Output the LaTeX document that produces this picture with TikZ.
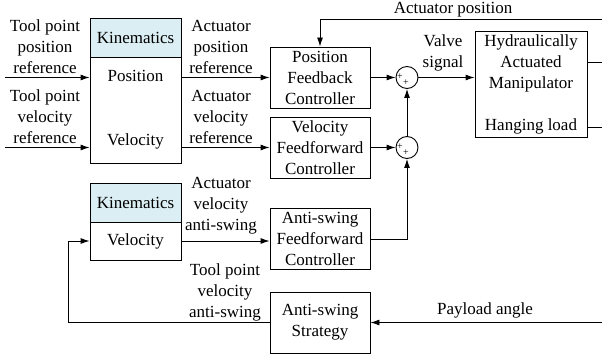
\documentclass[tikz,border=0pt]{standalone}
\usepackage{fontspec}
\setmainfont{Liberation Serif}
\usetikzlibrary{arrows.meta,positioning,shapes,calc}
\definecolor{KinBlue}{RGB}{218,238,243}
\tikzstyle{block} = [rectangle, draw, black, line width=0.9pt,
minimum width=100pt, minimum height=61pt, align=center, inner sep=0pt]
\tikzstyle{kinhead} = [block, fill=KinBlue, minimum width=91pt, minimum height=39pt]
\tikzstyle{kinbody} = [block, minimum width=91pt]
\tikzstyle{sum} = [circle, draw, line width=0.9pt, minimum size=22pt, inner sep=0pt]
\tikzstyle{lbl} = [align=center, inner sep=0pt]
\tikzstyle{plus} = [inner sep=0pt, font=\rmfamily\fontsize{10}{10}\selectfont]
\tikzstyle{sig} = [draw, line width=0.9pt, -{Latex[length=9pt,width=6pt]}]
\tikzstyle{wire} = [draw, line width=0.9pt]

\begin{document}
\begin{tikzpicture}[x=1pt, y=-1pt, font=\rmfamily\fontsize{17}{21}\selectfont]
	\useasboundingbox (0,0) rectangle (602,358);
	% kinematics for the references
	\node[kinhead] (kin1) at (135.5,37.5) {Kinematics};
	\node[kinbody, minimum height=106pt] (kin1b) at (135.5,110) {Position\\[43pt]Velocity};
	\node[block] (pfc) at (320,77.5) {Position\\Feedback\\Controller};
	\node[block] (vfc) at (320,147.5) {Velocity\\Feedforward\\Controller};
	\node[sum] (sum1) at (407,77.5) {};
	\node[sum] (sum2) at (407,147.5) {};
	\node[plus] at ($(sum1)+(-7,-1)$) {+};
	\node[plus] at ($(sum1)+(-1,5)$) {+};
	\node[plus] at ($(sum2)+(-7,-1)$) {+};
	\node[plus] at ($(sum2)+(-1,5)$) {+};
	\node[block, minimum width=112pt, minimum height=106pt] (ham) at (531,84)
		{Hydraulically\\Actuated\\Manipulator\\[21pt]Hanging load};

	% anti-swing part
	\node[kinhead] (kin2) at (135.5,202.5) {Kinematics};
	\node[kinbody, minimum height=38pt] (kin2b) at (135.5,241) {Velocity};
	\node[block] (asffc) at (320,239) {Anti-swing\\Feedforward\\Controller};
	\node[block] (ass) at (320,322.5) {Anti-swing\\Strategy};

	% labels
	\node[lbl] (tpposref) at (45,47) {Tool point\\position\\reference};
	\node[lbl] (tpvelref) at (45,117) {Tool point\\velocity\\reference};
	\node[lbl] (acposref) at (221,47) {Actuator\\position\\reference};
	\node[lbl] (acvelref) at (221,117) {Actuator\\velocity\\reference};
	\node[lbl] (valve) at (443,53) {Valve\\signal};
	\node[lbl] (acpos) at (453,10) {Actuator position};
	\node[lbl] (acvelas) at (221,206) {Actuator\\velocity\\anti-swing};
	\node[lbl] (tpvelas) at (225,292) {Tool point\\velocity\\anti-swing};
	\node[lbl] (payload) at (485,310) {Payload angle};

	% connectors
	\coordinate (in1) at (5,77.5);
	\coordinate (in2) at (5,147.5);
	\coordinate (fbout) at (602,62);
	\coordinate (fbtop) at (320,19);
	\coordinate (hlout) at (602,127);
	\coordinate (pain) at (602,322.5);
	\coordinate (ret) at (68,322.5);
	\draw[sig] (in1) -- (in1 -| kin1b.west);
	\draw[sig] (in2) -- (in2 -| kin1b.west);
	\draw[sig] (kin1b.east |- pfc.west) -- (pfc.west);
	\draw[sig] (kin1b.east |- vfc.west) -- (vfc.west);
	\draw[sig] (pfc.east) -- (sum1.west);
	\draw[sig] (vfc.east) -- (sum2.west);
	\draw[sig] (sum2) -- (sum1);
	\draw[sig] (asffc.east) -| (sum2.south);
	\draw[sig] (sum1.east) -- (sum1.east -| ham.west);
	\draw[sig] (fbout -| ham.east) -- (fbout) |- (fbtop) -- (pfc.north);
	\draw[wire] (hlout -| ham.east) -- (hlout);
	\draw[sig] (pain) -- (ass.east);
	\draw[sig] (ass.west) -- (ret) |- (kin2b.west);
	\draw[sig] (kin2b.east) -- (kin2b.east -| asffc.west);
\end{tikzpicture}
\end{document}
